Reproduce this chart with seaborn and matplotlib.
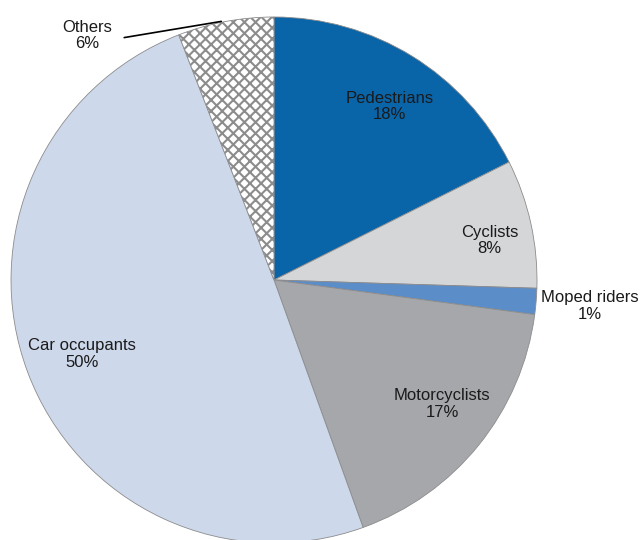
import matplotlib
matplotlib.use("Agg")
import matplotlib.pyplot as plt
import seaborn as sns

categories = ["Pedestrians", "Cyclists", "Moped riders", "Motorcyclists",
              "Car occupants", "Others"]
shares = [17.6, 7.9, 1.6, 17.4, 49.6, 5.9]
pct_labels = ["18%", "8%", "1%", "17%", "50%", "6%"]
colors = ["#0a64a8", "#d5d6d8", "#5b8dc9", "#a5a7ab", "#cdd8eb", "#ffffff"]

# label anchor points (data units, pie radius = 1)
label_pos = [(0.44, 0.66), (0.82, 0.15), (1.20, -0.10), (0.64, -0.47),
             (-0.73, -0.28), (-0.71, 0.93)]

sns.set_theme(style="white")
plt.rcParams["font.family"] = ["Liberation Sans", "DejaVu Sans"]
plt.rcParams["hatch.color"] = "#3a3a3a"
plt.rcParams["hatch.linewidth"] = 1.5

fig = plt.figure(figsize=(6.4, 5.4), dpi=100)
ax = fig.add_axes([11 / 640, -3 / 540, 526 / 640, 526 / 540])

wedges, _ = ax.pie(shares, colors=colors, startangle=90, counterclock=False,
                   wedgeprops=dict(edgecolor="#8c8c8c", linewidth=0.6))
wedges[-1].set_hatch("xxx")
ax.set_xlim(-1, 1)
ax.set_ylim(-1, 1)
ax.set_aspect("equal")

for name, pct, (x, y) in zip(categories, pct_labels, label_pos):
    ax.text(x, y, f"{name}\n{pct}", ha="center", va="center", fontsize=12,
            color="#1a1a1a", linespacing=1.15, clip_on=False)

# leader line for Others
ax.annotate("", xy=(-0.19, 0.985), xytext=(-0.58, 0.92),
            arrowprops=dict(arrowstyle="-", color="black", lw=1.2),
            annotation_clip=False)

fig.savefig("out.png", dpi=100)
